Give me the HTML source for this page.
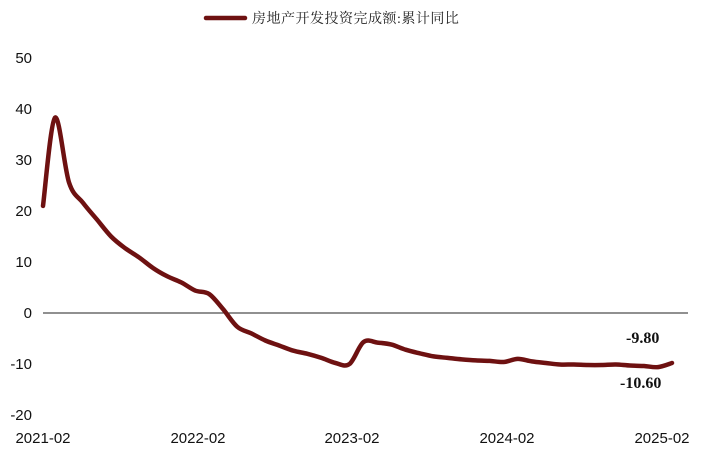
<!DOCTYPE html>
<html><head><meta charset="utf-8">
<style>
html,body{margin:0;padding:0;background:#fff;}
svg{display:block;}
.t{font-family:"Liberation Sans",sans-serif;font-size:15px;fill:#111;}
.b{font-family:"Liberation Serif",serif;font-size:16px;font-weight:bold;fill:#111;}
</style></head>
<body>
<svg id="s" width="706" height="458" viewBox="0 0 706 458" xmlns="http://www.w3.org/2000/svg">
<line x1="206" y1="18" x2="245" y2="18" stroke="#6e1111" stroke-width="4.5" stroke-linecap="round"/>
<text x="252" y="23" style="font-family:'Liberation Serif','Noto Serif CJK SC',serif;font-size:14px;fill:#222;letter-spacing:0.5px">房地产开发投资完成额:累计同比</text>
<g class="t" text-anchor="end">
<text x="32" y="63">50</text>
<text x="32" y="114">40</text>
<text x="32" y="165">30</text>
<text x="32" y="216">20</text>
<text x="32" y="267">10</text>
<text x="32" y="318">0</text>
<text x="32" y="369">-10</text>
<text x="32" y="420">-20</text>
</g>
<line x1="43" y1="313" x2="688" y2="313" stroke="#222" stroke-width="1"/>
<g class="t" text-anchor="middle">
<text x="43" y="443">2021-02</text>
<text x="198" y="443">2022-02</text>
<text x="352" y="443">2023-02</text>
<text x="507" y="443">2024-02</text>
<text x="662" y="443">2025-02</text>
</g>
<path id="p" fill="none" stroke="#6e1111" stroke-width="4.5" stroke-linejoin="round" stroke-linecap="round"/>
<text class="b" x="626" y="343">-9.80</text>
<text class="b" x="620" y="388">-10.60</text>
</svg>
<script>
var v=[38.3,25.6,21.6,18.3,15.0,12.7,10.9,8.8,7.2,6.0,4.4,3.7,0.7,-2.7,-4.0,-5.4,-6.4,-7.4,-8.0,-8.8,-9.8,-10.0,-5.7,-5.8,-6.2,-7.2,-7.9,-8.5,-8.8,-9.1,-9.3,-9.4,-9.6,-9.0,-9.5,-9.8,-10.1,-10.1,-10.2,-10.2,-10.1,-10.3,-10.4,-10.6,-9.8];
var Y=function(d){return 313-d*5.1;};
var pts=[[43,Y(21)]];
var n=v.length-1;
for(var i=0;i<v.length;i++){pts.push([55+i*(672-55)/n,Y(v[i])]);}
var d="M"+pts[0][0]+","+pts[0][1];
for(var i=0;i<pts.length-1;i++){
 var p0=pts[i-1]||pts[i],p1=pts[i],p2=pts[i+1],p3=pts[i+2]||p2;
 var c1=[p1[0]+(p2[0]-p0[0])/6,p1[1]+(p2[1]-p0[1])/6];
 var c2=[p2[0]-(p3[0]-p1[0])/6,p2[1]-(p3[1]-p1[1])/6];
 d+=" C"+c1[0].toFixed(1)+","+c1[1].toFixed(1)+" "+c2[0].toFixed(1)+","+c2[1].toFixed(1)+" "+p2[0].toFixed(1)+","+p2[1].toFixed(1);
}
document.getElementById("p").setAttribute("d",d);
</script>
</body></html>
